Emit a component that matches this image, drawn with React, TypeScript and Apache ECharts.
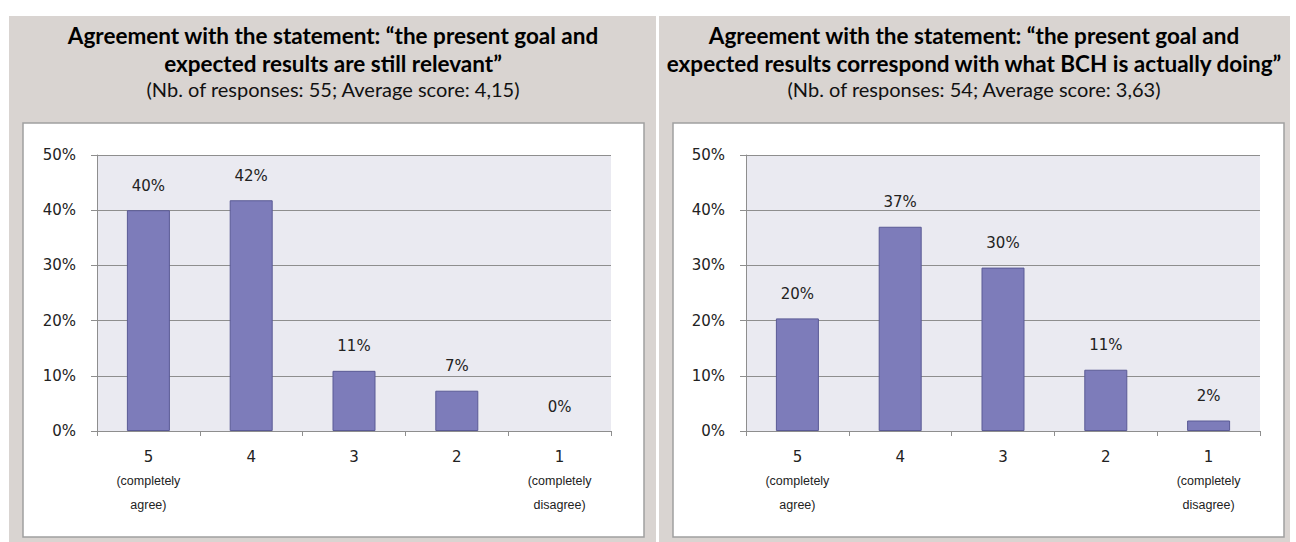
import React, { useEffect, useRef } from "react";
import * as echarts from "echarts";

const categories = ["5\n(completely\nagree)", "4", "3", "2", "1\n(completely\ndisagree)"];
const leftValues = [40.0, 41.8, 10.9, 7.3, 0];
const rightValues = [20.4, 37.0, 29.6, 11.1, 1.9];
const leftTitle = "Agreement with the statement: \u201cthe present goal and\nexpected results are still relevant\u201d";
const leftSub = "(Nb. of responses: 55; Average score: 4,15)";
const rightTitle = "Agreement with the statement: \u201cthe present goal and\nexpected results correspond with what BCH is actually doing\u201d";
const rightSub = "(Nb. of responses: 54; Average score: 3,63)";

const GRAY = "#d9d4d1";
const BAR = "#7d7cba";
const BAR_BORDER = "#5a5a95";
const PLOT_BG = "#eaeaf1";
const GRID_LINE = "#8e8e8e";

export default function App() {
  const ref = useRef<HTMLDivElement>(null);
  useEffect(() => {
    const chart = echarts.init(ref.current!, null, { renderer: "svg" });
    const tickFont = { fontFamily: "DejaVu Sans", fontSize: 15, color: "#222" };
    const mkX = (gridIndex: number) => ({
      type: "category" as const,
      gridIndex,
      data: categories,
      boundaryGap: true,
      axisLine: { show: true, lineStyle: { color: GRID_LINE, width: 1 } },
      axisTick: { show: true, length: 5, lineStyle: { color: GRID_LINE } },
      axisLabel: {
        interval: 0,
        margin: 14,
        lineHeight: 24,
        formatter: (v: string) => {
          const parts = v.split("\n");
          const head = `{n|${parts[0]}}`;
          return parts.length > 1 ? head + "\n" + parts.slice(1).map((p) => `{t|${p}}`).join("\n") : head;
        },
        rich: {
          n: { fontFamily: "DejaVu Sans", fontSize: 15, color: "#222", lineHeight: 24 },
          t: { fontFamily: "Liberation Sans", fontSize: 12.5, color: "#222", lineHeight: 24 },
        },
      },
    });
    const mkY = (gridIndex: number) => ({
      type: "value" as const,
      gridIndex,
      min: 0,
      max: 50,
      interval: 10,
      axisLine: { show: true, lineStyle: { color: GRID_LINE, width: 1 } },
      axisTick: { show: true, length: 6, lineStyle: { color: GRID_LINE } },
      splitLine: { show: true, lineStyle: { color: GRID_LINE, width: 1 } },
      axisLabel: { ...tickFont, margin: 21, formatter: (v: number) => v + "%" },
    });
    const mkSeries = (idx: number, data: number[]) => ({
      type: "bar" as const,
      xAxisIndex: idx,
      yAxisIndex: idx,
      data: data.map((v) => (v === 0 ? { value: v, itemStyle: { borderWidth: 0 } } : v)),
      barWidth: 43,
      itemStyle: { color: BAR, borderColor: BAR_BORDER, borderWidth: 1 },
      label: {
        show: true,
        position: "top" as const,
        distance: 17,
        ...tickFont,
        formatter: (p: any) => Math.round(p.value) + "%",
      },
    });
    const titleStyle = { fontFamily: "Lato", fontWeight: "bold", fontSize: 22.5, lineHeight: 28, color: "#000" };
    const subStyle = { fontFamily: "Lato", fontWeight: "normal", fontSize: 20, lineHeight: 25, color: "#111" };
    chart.setOption({
      animation: false,
      graphic: [
        { type: "rect", shape: { x: 9, y: 16, width: 647, height: 530 }, style: { fill: GRAY }, z: -10 },
        { type: "rect", shape: { x: 659, y: 16, width: 631, height: 530 }, style: { fill: GRAY }, z: -10 },
        { type: "rect", shape: { x: 23, y: 123, width: 621, height: 414 }, style: { fill: "#fff", stroke: "#a0a0a0", lineWidth: 1.5 }, z: -9 },
        { type: "rect", shape: { x: 673, y: 123, width: 611, height: 414 }, style: { fill: "#fff", stroke: "#a0a0a0", lineWidth: 1.5 }, z: -9 },
      ],
      title: [
        { text: leftTitle, left: 333, top: 21, padding: 0, textAlign: "center", textStyle: titleStyle },
        { text: leftSub, left: 333, top: 76, padding: 0, textAlign: "center", textStyle: subStyle },
        { text: rightTitle, left: 974, top: 21, padding: 0, textAlign: "center", textStyle: titleStyle },
        { text: rightSub, left: 974, top: 76, padding: 0, textAlign: "center", textStyle: subStyle },
      ],
      grid: [
        { left: 97, top: 155, width: 514, height: 276, show: true, backgroundColor: PLOT_BG, borderWidth: 0 },
        { left: 746, top: 155, width: 514, height: 276, show: true, backgroundColor: PLOT_BG, borderWidth: 0 },
      ],
      xAxis: [mkX(0), mkX(1)],
      yAxis: [mkY(0), mkY(1)],
      series: [mkSeries(0, leftValues), mkSeries(1, rightValues)],
    });
    return () => chart.dispose();
  }, []);
  return (
    <div
      ref={ref}
      style={{ position: "fixed", left: 0, top: 0, width: 1296, height: 542, background: "#fff" }}
    />
  );
}
